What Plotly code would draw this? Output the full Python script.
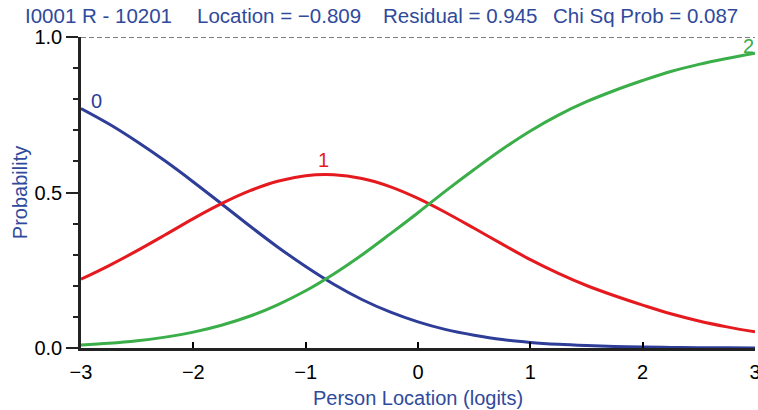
import plotly.graph_objects as go

# Person location (logits)
x_vals = [-3.0, -2.75, -2.5, -2.25, -2.0, -1.75, -1.5, -1.25, -1.0, -0.75, -0.5, -0.25,
          0.0, 0.25, 0.5, 0.75, 1.0, 1.25, 1.5, 1.75, 2.0, 2.25, 2.5, 2.75, 3.0]
# Category probability curves
cat0 = [0.770, 0.720, 0.663, 0.601, 0.534, 0.464, 0.393, 0.325, 0.262, 0.205, 0.156, 0.116,
        0.084, 0.059, 0.041, 0.027, 0.018, 0.012, 0.008, 0.005, 0.003, 0.002, 0.001, 0.001, 0.000]
cat1 = [0.221, 0.265, 0.313, 0.364, 0.416, 0.464, 0.505, 0.536, 0.554, 0.557, 0.545, 0.519,
        0.481, 0.435, 0.385, 0.334, 0.284, 0.240, 0.201, 0.168, 0.138, 0.110, 0.087, 0.068, 0.052]
cat2 = [0.010, 0.015, 0.023, 0.035, 0.051, 0.073, 0.102, 0.139, 0.184, 0.238, 0.299, 0.366,
        0.435, 0.506, 0.574, 0.639, 0.698, 0.749, 0.792, 0.828, 0.860, 0.889, 0.912, 0.931, 0.948]

series_names = ["0", "1", "2"]
series_colors = ["#2E3D98", "#E51A1F", "#3AAE48"]
label_pos = [(-2.86, 0.794), (-0.84, 0.605), (2.94, 0.97)]

title_parts = ["I0001 R - 10201", "Location = \u22120.809", "Residual = 0.945", "Chi Sq Prob = 0.087"]
title_px = [23, 195, 381, 551]

TXT_BLUE = "#2F4A9C"
FONT = "Liberation Sans, Arial, sans-serif"

fig = go.Figure()
for name, ys, col in zip(series_names, [cat0, cat1, cat2], series_colors):
    fig.add_trace(go.Scatter(x=x_vals, y=ys, mode="lines", name=name,
                             line=dict(color=col, width=3, shape="spline"),
                             showlegend=False, hoverinfo="skip"))

# dashed reference line at probability 1.0
fig.add_shape(type="line", xref="x", yref="y", x0=-3, x1=3, y0=1, y1=1,
              line=dict(color="#555555", width=1.6, dash="5px,3px"), layer="below")

for name, (lx, ly), col in zip(series_names, label_pos, series_colors):
    fig.add_annotation(x=lx, y=ly, text=name, showarrow=False, xref="x", yref="y",
                       font=dict(family=FONT, size=20, color=col),
                       xanchor="center", yanchor="middle")

L, R, T, B = 81, 3, 37, 62
W, H = 758, 410
pw = W - L - R
for txt, px in zip(title_parts, title_px):
    fig.add_annotation(x=(px - L) / pw, y=1, xref="paper", yref="paper", yshift=37 - 15,
                       text=txt, showarrow=False, xanchor="left", yanchor="middle",
                       font=dict(family=FONT, size=20.5, color=TXT_BLUE))

fig.update_layout(
    width=W, height=H,
    margin=dict(l=L, r=R, t=T, b=B, autoexpand=False),
    paper_bgcolor="white", plot_bgcolor="white",
    font=dict(family=FONT, size=20, color="black"),
)
fig.update_xaxes(range=[-3, 3], tickvals=[-3, -2, -1, 0, 1, 2, 3],
                 ticks="inside", ticklen=6, tickwidth=2, tickcolor="black",
                 ticklabeloverflow="allow", ticklabelstandoff=4,
                 showline=True, linecolor="#222222", linewidth=2.5, showgrid=False, zeroline=False,
                 automargin=False,
                 title=dict(text="Person Location (logits)", standoff=10,
                            font=dict(family=FONT, size=20, color=TXT_BLUE)))
fig.update_yaxes(range=[0, 1], tickvals=[0, 0.5, 1.0], tickformat=".1f",
                 ticks="outside", ticklen=12, tickwidth=2, tickcolor="#222222",
                 minor=dict(ticks="outside", ticklen=5, tickwidth=2, tickcolor="#222222", dtick=0.1, showgrid=False),
                 showline=True, linecolor="#222222", linewidth=2.5, showgrid=False, zeroline=False,
                 automargin=False,
                 title=dict(text="Probability", standoff=2,
                            font=dict(family=FONT, size=20, color=TXT_BLUE)))

fig.write_html("out.html")
